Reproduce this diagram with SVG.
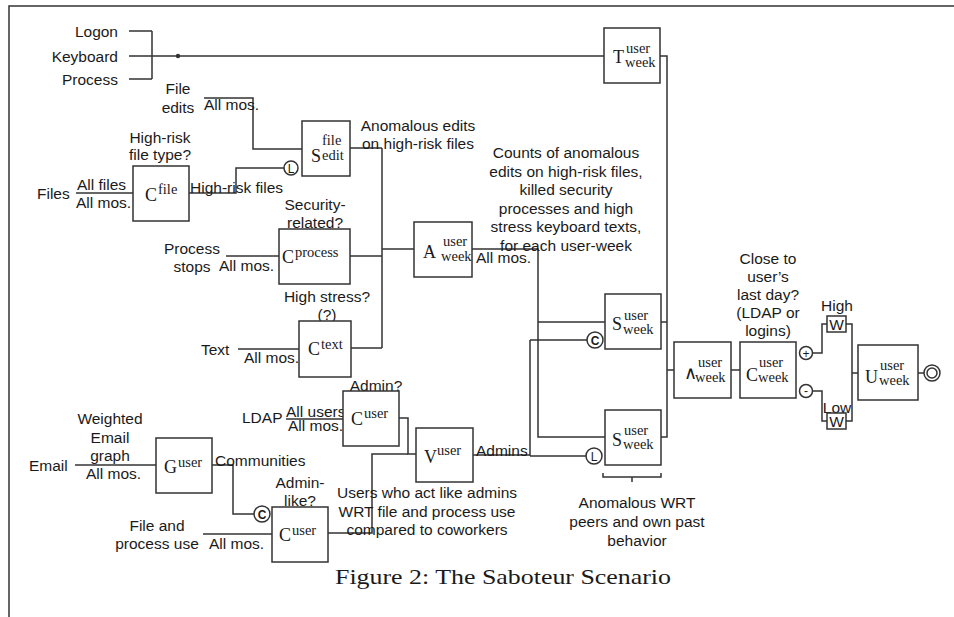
<svg xmlns="http://www.w3.org/2000/svg" width="954" height="617" viewBox="0 0 954 617">
<style>
.t{font-family:"Liberation Sans",Arial,sans-serif;font-size:15.5px;fill:#1a1a1a}
.c{text-anchor:middle}
.e{text-anchor:end}
.m{font-family:"Liberation Serif","Times New Roman",serif;font-size:18px;fill:#1a1a1a}
.s{font-family:"Liberation Serif","Times New Roman",serif;font-size:14.5px;fill:#1a1a1a}
.box{fill:#fff;stroke:#333;stroke-width:1.5}
.ln{fill:none;stroke:#333;stroke-width:1.5}
.cir{fill:#fff;stroke:#333;stroke-width:1.5}
.ct{font-family:"Liberation Sans",Arial,sans-serif;font-size:12px;text-anchor:middle;fill:#1a1a1a}
</style>
<rect width="954" height="617" fill="#fff"/>
<path class="ln" d="M9,617 V6 H954"/>

<g id="connectors">
<path class="ln" d="M129,31 H152 M129,56 H152 M129,79 H152 M152,31 V79 M152,56 H604"/>
<circle cx="178" cy="56" r="2.2" fill="#333"/>
<path class="ln" d="M204,98 H253 V149 H302"/>
<path class="ln" d="M76,193 H133"/>
<path class="ln" d="M189,193 H236 V168 H284"/>
<path class="ln" d="M226,256 H279"/>
<path class="ln" d="M238,349 H299"/>
<path class="ln" d="M350,148 H382 M350,256 H382 M351,348 H382 M382,148 V348 M382,249 H414"/>
<path class="ln" d="M472,249 H538 V437 H605 M538,322 H605"/>
<path class="ln" d="M286,419 H343"/>
<path class="ln" d="M75,465 H156"/>
<path class="ln" d="M212,465 H233 V514 H254"/>
<path class="ln" d="M203,534 H272"/>
<path class="ln" d="M399,418 H408 V454 H416"/>
<path class="ln" d="M328,533 H372 V454 H408"/>
<path class="ln" d="M473,455 H530 M530,340 V456 M530,340 H587 M530,456 H586"/>
<path class="ln" d="M660,56 H667 V437 H661 M661,322 H667 M667,370 H674"/>
<path class="ln" d="M731,370 H740"/>
<path class="ln" d="M813,353 H822 V324 H827 M846,324 H852 V421 H846 M813,391 H822 V421 H827 M852,373 H858"/>
<path class="ln" d="M918,373 H924"/>
<path class="ln" d="M603,473 V477 H661 V473 M632,477 V482"/>
</g>

<g id="inputs">
<text class="t e" x="118" y="37">Logon</text>
<text class="t e" x="118" y="62">Keyboard</text>
<text class="t e" x="118" y="85">Process</text>
<text class="t c" x="178" y="94">File</text>
<text class="t c" x="178" y="113">edits</text>
<text class="t" x="204" y="110">All mos.</text>
<text class="t" x="37" y="199">Files</text>
<text class="t" x="77" y="190">All files</text>
<text class="t" x="76" y="208">All mos.</text>
<text class="t c" x="192" y="254">Process</text>
<text class="t c" x="192" y="272">stops</text>
<text class="t" x="219" y="271">All mos.</text>
<text class="t" x="201" y="355">Text</text>
<text class="t" x="244" y="363">All mos.</text>
<text class="t" x="242" y="423">LDAP</text>
<text class="t" x="286" y="417">All users</text>
<text class="t" x="288" y="431">All mos.</text>
<text class="t c" x="110" y="424">Weighted</text>
<text class="t c" x="110" y="442.5">Email</text>
<text class="t c" x="110" y="461">graph</text>
<text class="t" x="29" y="471">Email</text>
<text class="t" x="86" y="479">All mos.</text>
<text class="t c" x="157" y="531">File and</text>
<text class="t c" x="157" y="549">process use</text>
<text class="t" x="209" y="549">All mos.</text>
</g>

<g id="node-T">
<rect class="box" x="604" y="28" width="56" height="55"/>
<text class="m" x="613" y="63">T</text>
<text class="s" x="626" y="53">user</text>
<text class="s" x="625" y="67">week</text>
</g>

<g id="node-Cfile">
<text class="t c" x="160" y="143">High-risk</text>
<text class="t c" x="160" y="160">file type?</text>
<rect class="box" x="133" y="166" width="56" height="55"/>
<text class="m" x="145" y="201">C</text>
<text class="s" x="158" y="194">file</text>
<text class="t" x="190" y="193">High-risk files</text>
</g>

<g id="node-L1">
<circle class="cir" cx="291" cy="168" r="7"/>
<text class="ct" x="291" y="172.5">L</text>
</g>

<g id="node-Sedit">
<rect class="box" x="302" y="121" width="48" height="55"/>
<text class="s" x="322" y="145">file</text>
<text class="m" x="311" y="162">S</text>
<text class="s" x="322" y="160">edit</text>
<text class="t c" x="418" y="131">Anomalous edits</text>
<text class="t c" x="418" y="149">on high-risk files</text>
</g>

<g id="node-Cprocess">
<text class="t c" x="315" y="210">Security-</text>
<text class="t c" x="315" y="228">related?</text>
<rect class="box" x="279" y="229" width="71" height="55"/>
<text class="m" x="282" y="263">C</text>
<text class="s" x="295" y="257">process</text>
</g>

<g id="node-Ctext">
<text class="t c" x="327" y="302">High stress?</text>
<text class="t c" x="327" y="320">(?)</text>
<rect class="box" x="299" y="321" width="52" height="56"/>
<text class="m" x="308" y="355">C</text>
<text class="s" x="321" y="349">text</text>
</g>

<g id="node-A">
<rect class="box" x="414" y="222" width="58" height="55"/>
<text class="m" x="423" y="258">A</text>
<text class="s" x="443" y="246">user</text>
<text class="s" x="441" y="261">week</text>
<text class="t" x="476" y="263">All mos.</text>
</g>

<g id="note-counts">
<text class="t c" x="566" y="158">Counts of anomalous</text>
<text class="t c" x="566" y="176.5">edits on high-risk files,</text>
<text class="t c" x="566" y="195">killed security</text>
<text class="t c" x="566" y="213.5">processes and high</text>
<text class="t c" x="566" y="232">stress keyboard texts,</text>
<text class="t c" x="566" y="250.5">for each user-week</text>
</g>

<g id="node-Cadmin">
<text class="t c" x="376" y="391">Admin?</text>
<rect class="box" x="343" y="391" width="56" height="55"/>
<text class="m" x="351" y="425">C</text>
<text class="s" x="364" y="418">user</text>
</g>

<g id="node-G">
<rect class="box" x="156" y="438" width="56" height="55"/>
<text class="m" x="164" y="473">G</text>
<text class="s" x="178" y="467">user</text>
<text class="t" x="215" y="466">Communities</text>
</g>

<g id="node-C2">
<circle class="cir" cx="262" cy="514" r="8"/>
<text class="ct" x="262" y="518.5" font-weight="bold">C</text>
</g>

<g id="node-Clike">
<text class="t c" x="300" y="488">Admin-</text>
<text class="t c" x="300" y="506">like?</text>
<rect class="box" x="272" y="507" width="56" height="55"/>
<text class="m" x="279" y="541">C</text>
<text class="s" x="292" y="535">user</text>
</g>

<g id="node-V">
<rect class="box" x="416" y="428" width="57" height="54"/>
<text class="m" x="424" y="463">V</text>
<text class="s" x="437" y="455">user</text>
<text class="t" x="476" y="456">Admins</text>
<text class="t c" x="427" y="498">Users who act like admins</text>
<text class="t c" x="427" y="516.5">WRT file and process use</text>
<text class="t c" x="427" y="535">compared to coworkers</text>
</g>

<g id="node-C1">
<circle class="cir" cx="595" cy="340" r="8"/>
<text class="ct" x="595" y="344.5" font-weight="bold">C</text>
</g>

<g id="node-L2">
<circle class="cir" cx="594" cy="456" r="8"/>
<text class="ct" x="594" y="460.5">L</text>
</g>

<g id="node-S1">
<rect class="box" x="605" y="294" width="56" height="55"/>
<text class="m" x="612" y="330">S</text>
<text class="s" x="624" y="320">user</text>
<text class="s" x="623" y="334">week</text>
</g>

<g id="node-S2">
<rect class="box" x="605" y="410" width="56" height="55"/>
<text class="m" x="612" y="446">S</text>
<text class="s" x="624" y="435">user</text>
<text class="s" x="623" y="449">week</text>
<text class="t c" x="637" y="508">Anomalous WRT</text>
<text class="t c" x="637" y="527">peers and own past</text>
<text class="t c" x="637" y="546">behavior</text>
</g>

<g id="node-And">
<rect class="box" x="674" y="342" width="57" height="56"/>
<text class="m" x="684" y="379" font-size="13">∧</text>
<text class="s" x="698" y="367">user</text>
<text class="s" x="695" y="382">week</text>
</g>

<g id="node-Cweek">
<text class="t c" x="768" y="264">Close to</text>
<text class="t c" x="768" y="282">user’s</text>
<text class="t c" x="768" y="300">last day?</text>
<text class="t c" x="768" y="318">(LDAP or</text>
<text class="t c" x="768" y="336">logins)</text>
<rect class="box" x="740" y="342" width="56" height="56"/>
<text class="m" x="746" y="381">C</text>
<text class="s" x="759" y="367">user</text>
<text class="s" x="758" y="382">week</text>
</g>

<g id="node-plus">
<circle class="cir" cx="806" cy="353" r="6.5"/>
<text class="ct" x="806" y="357.5">+</text>
</g>
<g id="node-minus">
<circle class="cir" cx="806" cy="391" r="6.5"/>
<text class="ct" x="806" y="395">-</text>
</g>

<g id="node-Whigh">
<text class="t c" x="837" y="311">High</text>
<rect class="box" x="827" y="316" width="19" height="16"/>
<text class="t c" x="836.5" y="330" font-size="15">W</text>
</g>
<g id="node-Wlow">
<text class="t c" x="837" y="413">Low</text>
<rect class="box" x="827" y="413" width="19" height="16" fill="none"/>
<text class="t c" x="836.5" y="427" font-size="15">W</text>
</g>

<g id="node-U">
<rect class="box" x="858" y="345" width="60" height="55"/>
<text class="m" x="865" y="383">U</text>
<text class="s" x="880" y="370">user</text>
<text class="s" x="879" y="385">week</text>
</g>

<g id="node-O">
<circle class="cir" cx="932" cy="373" r="8"/>
<circle class="cir" cx="932" cy="373" r="5"/>
</g>

<text x="335" y="584" font-family="'Liberation Serif','Times New Roman',serif" font-size="22" fill="#1a1a1a" textLength="336" lengthAdjust="spacingAndGlyphs">Figure 2: The Saboteur Scenario</text>
</svg>
